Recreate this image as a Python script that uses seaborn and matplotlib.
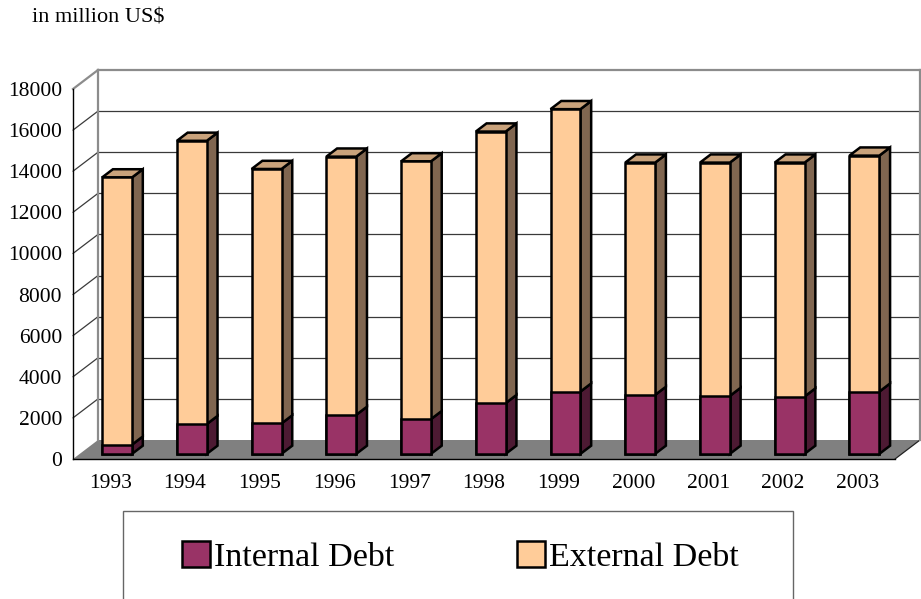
import matplotlib
matplotlib.use("Agg")
import matplotlib.pyplot as plt
from matplotlib.patches import Polygon, Rectangle, Patch
import pandas as pd
import seaborn as sns

# ---- data (million US$) ----
years = ["1993", "1994", "1995", "1996", "1997", "1998",
         "1999", "2000", "2001", "2002", "2003"]
internal_debt = [450, 1450, 1480, 1900, 1690, 2470, 3030, 2870, 2820, 2790, 3030]
external_debt = [13000, 13780, 12380, 12560, 12540, 13210, 13740, 11300, 11350, 11380, 11480]
y_ticks = list(range(0, 18001, 2000))

# ---- colours: front / side / top shading ----
INT_FRONT, INT_SIDE, INT_TOP = "#993366", "#4D1A33", "#7A2952"
EXT_FRONT, EXT_SIDE, EXT_TOP = "#FFCC99", "#806650", "#C9A27B"
FLOOR = "#808080"
WALL_EDGE = "#8C8C8C"
GRID = "#3A3A3A"

sns.set_style("white")
plt.rcParams["font.family"] = ["Liberation Serif", "DejaVu Serif"]
for key in ("text.color", "axes.labelcolor", "xtick.color", "ytick.color"):
    plt.rcParams[key] = "black"

W, H = 921, 599
fig = plt.figure(figsize=(W / 100, H / 100), dpi=100)
ax = fig.add_axes([73 / W, 1 - 459 / H, 822 / W, 370 / H])
ax.set_facecolor("none")

df = pd.DataFrame({"Year": years,
                   "Internal Debt": internal_debt,
                   "External Debt": external_debt})
df["Total"] = df["Internal Debt"] + df["External Debt"]

LW = 1.8
bar_kw = dict(saturation=1, width=0.4, edgecolor="black", linewidth=LW,
              errorbar=None, ax=ax)
sns.barplot(data=df, x="Year", y="Total", color=EXT_FRONT, **bar_kw)
n_ext = len(ax.patches)
sns.barplot(data=df, x="Year", y="Internal Debt", color=INT_FRONT, **bar_kw)
ext_bars = ax.patches[:n_ext]
int_bars = ax.patches[n_ext:]

ymax = y_ticks[-1]
x0, x1 = -0.5, len(years) - 0.5
ax.set_xlim(x0, x1)
ax.set_ylim(0, ymax)

# oblique depth of the plot box, expressed in data units
bb = ax.get_position()
px_per_cat = bb.width * W / (x1 - x0)
px_per_val = bb.height * H / ymax
DX, DY = 25 / px_per_cat, 19 / px_per_val
d_front, d_back = 0.27, 0.70
fx, fy = d_front * DX, d_front * DY
bx, by = (d_back - d_front) * DX, (d_back - d_front) * DY

# ---- walls and floor ----
ax.add_patch(Polygon([(x0 + DX, DY), (x1 + DX, DY), (x1 + DX, ymax + DY), (x0 + DX, ymax + DY)],
                     closed=True, facecolor="white", edgecolor="none", zorder=0, clip_on=False))
ax.add_patch(Polygon([(x0, 0), (x0 + DX, DY), (x0 + DX, ymax + DY), (x0, ymax)],
                     closed=True, facecolor="white", edgecolor="none", zorder=0, clip_on=False))
for v in y_ticks[1:-1]:
    ax.plot([x0 + DX, x1 + DX], [v + DY, v + DY], color=GRID, lw=0.9, zorder=0.5, clip_on=False)
    ax.plot([x0, x0 + DX], [v, v + DY], color=GRID, lw=0.9, zorder=0.5, clip_on=False)
ax.add_patch(Polygon([(x0, 0), (x1, 0), (x1 + DX, DY), (x0 + DX, DY)],
                     closed=True, facecolor=FLOOR, edgecolor="none", zorder=0.6, clip_on=False))
ax.plot([x1, x1 + DX], [0, DY], color="#222222", lw=0.9, zorder=0.7, clip_on=False)
edge_kw = dict(color=WALL_EDGE, lw=1.6, zorder=0.7, clip_on=False, solid_capstyle="projecting")
ax.plot([x0 + DX, x0 + DX], [DY, ymax + DY], **edge_kw)
ax.plot([x0, x0 + DX], [ymax, ymax + DY], **edge_kw)
ax.plot([x0 + DX, x1 + DX], [ymax + DY, ymax + DY], **edge_kw)
ax.plot([x1 + DX, x1 + DX], [DY, ymax + DY], **edge_kw)

# ---- 3-D bars: shift the front faces back, add side and top faces ----
face_kw = dict(closed=True, edgecolor="black", linewidth=LW, joinstyle="miter",
               zorder=3, clip_on=False)
for p in ax.patches[:n_ext * 2]:
    p.set_x(p.get_x() + fx)
    p.set_y(p.get_y() + fy)
    p.set_zorder(4)
    p.set_clip_on(False)
    p.set_joinstyle("miter")

for pe, pi in zip(ext_bars, int_bars):
    xl = pi.get_x()
    xr = xl + pi.get_width()
    y_base = pi.get_y()
    y_mid = y_base + pi.get_height()
    y_top = pe.get_y() + pe.get_height()
    for ya, yb, col in ((y_base, y_mid, INT_SIDE), (y_mid, y_top, EXT_SIDE)):
        ax.add_patch(Polygon([(xr, ya), (xr, yb), (xr + bx, yb + by), (xr + bx, ya + by)],
                             facecolor=col, **face_kw))
    ax.add_patch(Polygon([(xl, y_top), (xr, y_top), (xr + bx, y_top + by), (xl + bx, y_top + by)],
                         facecolor=EXT_TOP, **face_kw))

# ---- axes ----
for side in ("top", "right"):
    ax.spines[side].set_visible(False)
for side in ("left", "bottom"):
    ax.spines[side].set_color("black")
    ax.spines[side].set_linewidth(1.0)
    ax.spines[side].set_zorder(5)
ax.set_yticks(y_ticks)
ax.set_yticklabels([str(t) for t in y_ticks])
ax.tick_params(axis="y", direction="out", length=5.5, width=1, pad=2.5,
               labelsize=15.5, colors="black")
ax.set_xticks(range(len(years)))
ax.set_xticklabels(years)
ax.set_xticks([i - 0.5 for i in range(len(years) + 1)], minor=True)
ax.tick_params(axis="x", which="major", length=0, pad=11, labelsize=15.5, colors="black")
ax.tick_params(axis="x", which="minor", direction="out", length=4.5, width=1, colors="black")
ax.set_xlabel("")
ax.set_ylabel("")
ax.grid(False)

# ---- unit note ----
fig.text(32 / W, 1 - 23 / H, "in million US$", fontsize=16, ha="left", va="baseline",
         color="black")

# ---- legend ----
fig.patches.append(Rectangle((123 / W, 1 - 606 / H), (793 - 123) / W, (606 - 511) / H,
                             transform=fig.transFigure, facecolor="white",
                             edgecolor="#666666", linewidth=1.0, zorder=0))
handles = [Patch(facecolor=INT_FRONT, edgecolor="black", linewidth=1.8, label="Internal Debt"),
           Patch(facecolor=EXT_FRONT, edgecolor="black", linewidth=1.8, label="External Debt")]
leg = fig.legend(handles=handles, ncol=2, frameon=False, fontsize=24.5,
                 handlelength=0.82, handleheight=0.82, handletextpad=0.12,
                 columnspacing=3.6, borderpad=0, borderaxespad=0,
                 loc="center left", bbox_to_anchor=(182 / W, 1 - 557 / H))
for t in leg.get_texts():
    t.set_color("black")

fig.savefig("out.png", dpi=100)
